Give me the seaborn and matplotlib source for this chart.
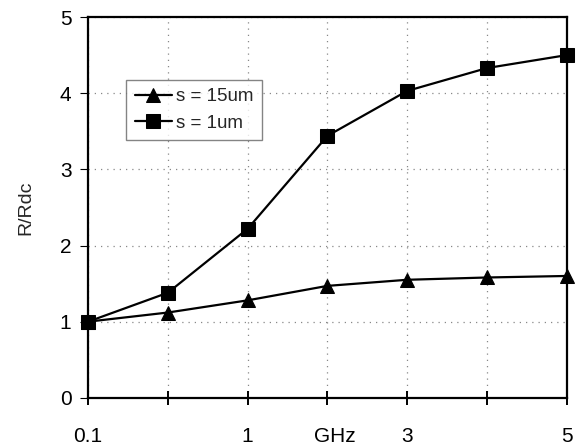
import seaborn as sns
import pandas as pd
import matplotlib.pyplot as plt
import matplotlib.transforms as mtransforms
import numpy as np

# frequency points (equally spaced on the chart)
positions = [0, 1, 2, 3, 4, 5, 6]
tick_labels = ['0.1', '', '1', 'GHz', '3', '', '5']
s15 = [1.0, 1.12, 1.28, 1.47, 1.55, 1.58, 1.60]
s1 = [1.0, 1.38, 2.22, 3.44, 4.03, 4.33, 4.50]
series_names = ['s = 15um', 's = 1um']

sns.set_theme(style='white')
plt.rcParams['font.family'] = ['Liberation Sans', 'DejaVu Sans']

df = pd.DataFrame({
    'pos': positions * 2,
    'ratio': s15 + s1,
    'series': [series_names[0]] * len(s15) + [series_names[1]] * len(s1),
})

fig = plt.figure(figsize=(5.76, 4.48), dpi=100)
ax = fig.add_axes([0.153, 0.112, 0.831, 0.850])

sns.lineplot(data=df, x='pos', y='ratio', hue='series', style='series',
             palette=['black', 'black'], markers={'s = 15um': '^', 's = 1um': 's'},
             dashes=False, markersize=10, linewidth=1.6, markeredgecolor='black',
             ax=ax, clip_on=False)

ax.set_xlim(0, 6)
ax.set_ylim(0, 5)
ax.set_xticks(positions)
ax.set_xticklabels(tick_labels, fontsize=15)
ax.set_yticks([0, 1, 2, 3, 4, 5])
ax.set_yticklabels(['0', '1', '2', '3', '4', '5'], fontsize=15)
ax.set_xlabel('')
ax.set_ylabel('R/Rdc', fontsize=14, labelpad=18)

ax.grid(True, color='#888888', linestyle=(0, (1, 4)), linewidth=0.9)
for sp in ax.spines.values():
    sp.set_color('black')
    sp.set_linewidth(1.6)
ax.tick_params(axis='x', bottom=True, direction='inout', length=10, width=1.4, colors='black', pad=16)
ax.tick_params(axis='y', left=True, direction='out', length=6, width=0.8, colors='black', pad=6)

# "GHz" sits a little right of its tick
ghz = ax.xaxis.get_major_ticks()[3].label1
ghz.set_transform(ghz.get_transform() + mtransforms.ScaledTranslation(0.07, 0, fig.dpi_scale_trans))

leg = ax.legend(loc='upper left', bbox_to_anchor=(0.06, 0.86), fontsize=13.5,
                frameon=True, fancybox=False, edgecolor='#666666',
                handlelength=2.0, handletextpad=0.2, borderpad=0.45, labelspacing=0.5)
leg.get_frame().set_linewidth(1.0)

fig.savefig('out.png', dpi=100)
